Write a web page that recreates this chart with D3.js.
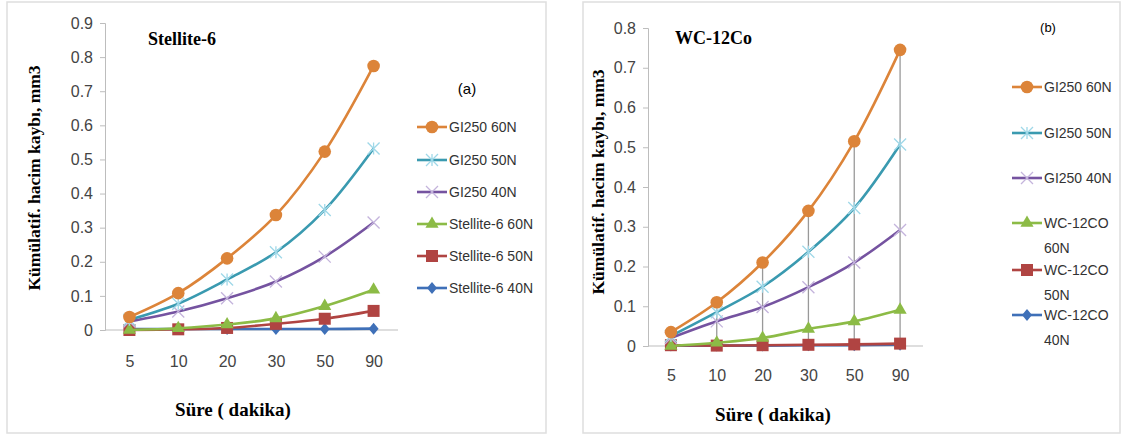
<!DOCTYPE html>
<html>
<head>
<meta charset="utf-8">
<script src="https://cdn.jsdelivr.net/npm/d3@7"></script>
<style>
  body { margin: 0; background: #fff; }
  svg { display: block; }
</style>
</head>
<body>
<svg id="svgx" width="1128" height="435"></svg>
<script>
// ---------------- data
const times = ["5", "10", "20", "30", "50", "90"];

const stelliteNames = ["GI250 60N", "GI250 50N", "GI250 40N", "Stellite-6 60N", "Stellite-6 50N", "Stellite-6 40N"];
const st_gi60 = [0.038, 0.108, 0.21, 0.337, 0.523, 0.774];
const st_gi50 = [0.03, 0.077, 0.148, 0.228, 0.352, 0.532];
const st_gi40 = [0.025, 0.054, 0.093, 0.142, 0.215, 0.315];
const st_s60 = [0.0, 0.005, 0.016, 0.034, 0.07, 0.118];
const st_s50 = [0.0, 0.002, 0.006, 0.018, 0.033, 0.056];
const st_s40 = [0.003, 0.003, 0.003, 0.003, 0.003, 0.004];

const wcNames = ["GI250 60N", "GI250 50N", "GI250 40N", "WC-12CO\n60N", "WC-12CO\n50N", "WC-12CO\n40N"];
const wc_gi60 = [0.035, 0.11, 0.21, 0.34, 0.515, 0.745];
const wc_gi50 = [0.025, 0.085, 0.149, 0.237, 0.347, 0.507];
const wc_gi40 = [0.02, 0.062, 0.098, 0.148, 0.21, 0.292];
const wc_w60 = [0.0, 0.008, 0.02, 0.043, 0.062, 0.091];
const wc_w50 = [0.002, 0.001, 0.002, 0.003, 0.004, 0.006];
const wc_w40 = [0.001, 0.001, 0.001, 0.002, 0.002, 0.003];

const lineColors = ["#dc8439", "#3a9ab0", "#7553a0", "#8cbb46", "#b04442", "#3f70b8"];
const markColors = ["#dc8439", "#9fd8e8", "#c4b4dc", "#8cbb46", "#b04442", "#3f70b8"];
const markTypes = ["circle", "asterisk", "x", "triangle", "square", "diamond"];

const svg = d3.select("#svgx");
const fontTick = "'Liberation Sans Narrow', 'Liberation Sans', Arial, sans-serif";
const fontSerif = "'Liberation Serif', 'Times New Roman', serif";

function drawMarker(g, type, x, y, i) {
  const c = markColors[i];
  if (type === "circle") {
    g.append("circle").attr("cx", x).attr("cy", y).attr("r", 6.3).attr("fill", c);
  } else if (type === "triangle") {
    g.append("path").attr("d", d3.symbol(d3.symbolTriangle, 75)()).attr("transform", `translate(${x},${y})`).attr("fill", c);
  } else if (type === "square") {
    g.append("rect").attr("x", x - 6).attr("y", y - 6).attr("width", 12).attr("height", 12).attr("fill", c);
  } else if (type === "diamond") {
    g.append("path").attr("d", `M${x},${y - 6}L${x + 5},${y}L${x},${y + 6}L${x - 5},${y}Z`).attr("fill", c);
  } else if (type === "x" || type === "asterisk") {
    const r = 6;
    g.append("path")
      .attr("d", `M${x - r},${y - r}L${x + r},${y + r}M${x - r},${y + r}L${x + r},${y - r}` +
        (type === "asterisk" ? `M${x},${y - r}L${x},${y + r}` : ""))
      .attr("stroke", c).attr("stroke-width", 1.3).attr("fill", "none");
  }
}

function panel(opt) {
  const g = svg.append("g");
  // frame
  g.append("rect").attr("x", opt.frame[0]).attr("y", opt.frame[1])
    .attr("width", opt.frame[2]).attr("height", opt.frame[3])
    .attr("fill", "none").attr("stroke", "#dedede").attr("stroke-width", 1.5);

  const x = d3.scalePoint().domain(times).range([opt.x0, opt.x1]).padding(0.5);
  const y = d3.scaleLinear().domain([0, opt.ymax]).range([opt.y0, opt.y1]);

  // y axis
  const yAxis = d3.axisLeft(y).tickValues(d3.range(0, opt.ymax + 0.001, 0.1))
    .tickFormat(d => d === 0 ? "0" : d3.format(".1f")(d)).tickSize(5).tickPadding(7);
  const yG = g.append("g").attr("transform", `translate(${opt.x0},0)`).call(yAxis);
  yG.selectAll("line,path").attr("stroke", "#bdbdbd");
  yG.selectAll("text").style("font-family", fontTick).style("font-size", "16px").attr("fill", "#444");

  // x axis
  const xAxis = d3.axisBottom(x).tickSize(0).tickPadding(opt.xpad);
  const xG = g.append("g").attr("transform", `translate(0,${opt.y0})`).call(xAxis);
  xG.select(".domain").attr("stroke", "#bdbdbd").attr("d", `M${opt.x0},0H${opt.x1}`);
  xG.selectAll("text").style("font-family", fontTick).style("font-size", "16px").attr("fill", "#444");

  // drop lines (high-low)
  if (opt.drop) {
    times.forEach((t, j) => {
      const top = d3.max(opt.series, s => s[j]);
      g.append("line").attr("x1", x(t)).attr("x2", x(t))
        .attr("y1", y(top)).attr("y2", y(0))
        .attr("stroke", "#999").attr("stroke-width", 1.3);
    });
  }

  const line = d3.line().x((d, j) => x(times[j])).y(d => y(d)).curve(d3.curveCatmullRom.alpha(0.5));
  // draw from last to first so orange ends on top
  for (let i = opt.series.length - 1; i >= 0; i--) {
    const s = opt.series[i];
    g.append("path").attr("d", line(s)).attr("fill", "none")
      .attr("stroke", lineColors[i]).attr("stroke-width", 2.6);
    s.forEach((v, j) => drawMarker(g, markTypes[i], x(times[j]), y(v), i));
  }

  // titles
  g.append("text").attr("x", opt.title[0]).attr("y", opt.title[1]).text(opt.title[2])
    .style("font-family", fontSerif).style("font-weight", "bold").style("font-size", "18px");
  g.append("text").attr("transform", `translate(${opt.ylab[0]},${opt.ylab[1]}) rotate(-90)`)
    .attr("text-anchor", "middle").text("Kümülatif. hacim kaybı, mm3")
    .style("font-family", fontSerif).style("font-weight", "bold").style("font-size", "17.5px");
  g.append("text").attr("x", opt.xlab[0]).attr("y", opt.xlab[1]).attr("text-anchor", "middle")
    .text("Süre ( dakika)")
    .style("font-family", fontSerif).style("font-weight", "bold").style("font-size", "19px");
  g.append("text").attr("x", opt.tag[0]).attr("y", opt.tag[1]).attr("text-anchor", "middle")
    .text(opt.tag[2]).style("font-family", opt.legFont).style("font-size", opt.tagSize);

  // legend
  opt.names.forEach((n, i) => {
    const ly = opt.leg[1] + opt.legRows[i];
    const lx = opt.leg[0];
    g.append("line").attr("x1", lx).attr("x2", lx + 30).attr("y1", ly).attr("y2", ly)
      .attr("stroke", lineColors[i]).attr("stroke-width", 2.6);
    drawMarker(g, markTypes[i], lx + 15, ly, i);
    const t = g.append("text").attr("x", lx + 32).attr("y", ly + 5)
      .style("font-family", opt.legFont).style("font-size", "14px").attr("fill", "#333");
    n.split("\n").forEach((part, k) => {
      t.append("tspan").attr("x", lx + 32).attr("dy", k === 0 ? 0 : 25).text(part);
    });
  });
}

panel({
  frame: [7, 2, 539, 431],
  x0: 105, x1: 398, y0: 330, y1: 23, ymax: 0.9, xpad: 26,
  series: [st_gi60, st_gi50, st_gi40, st_s60, st_s50, st_s40],
  names: stelliteNames, drop: false,
  title: [148, 45, "Stellite-6"],
  ylab: [40, 178], xlab: [233, 416],
  tag: [467, 94, "(a)"], tagSize: "15px",
  leg: [417, 127], legRows: [0, 33, 65, 97, 129, 161],
  legFont: fontTick
});

panel({
  frame: [583, 2, 537, 431],
  x0: 648, x1: 923, y0: 346, y1: 28, ymax: 0.8, xpad: 24,
  series: [wc_gi60, wc_gi50, wc_gi40, wc_w60, wc_w50, wc_w40],
  names: wcNames, drop: true,
  title: [675, 44, "WC-12Co"],
  ylab: [604, 182], xlab: [773, 421],
  tag: [1048, 32, "(b)"], tagSize: "13px",
  leg: [1012, 87], legRows: [0, 46, 91, 136, 183, 228],
  legFont: "'Liberation Sans', Arial, sans-serif"
});
</script>
</body>
</html>
